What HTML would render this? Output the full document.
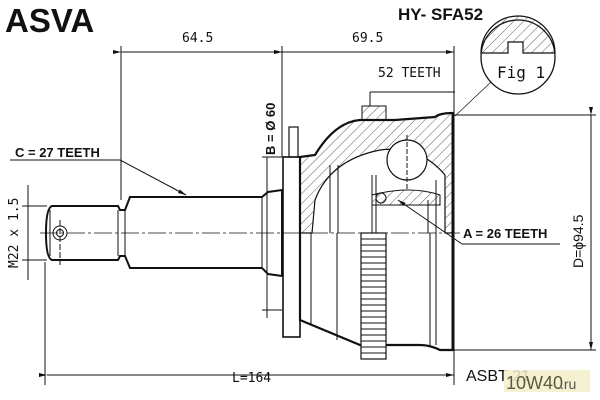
<!DOCTYPE html>
<html><head><meta charset="utf-8"><style>
html,body{margin:0;padding:0;background:#fff;}
svg{display:block;}
text{font-family:"Liberation Sans",sans-serif;fill:#111;}
.m{font-family:"DejaVu Sans Mono","Liberation Mono",monospace;}
</style></head><body>
<svg width="600" height="400" viewBox="0 0 600 400" xmlns="http://www.w3.org/2000/svg">
<defs>
<pattern id="h" width="7" height="7" patternUnits="userSpaceOnUse" patternTransform="rotate(45)">
<line x1="0" y1="0" x2="0" y2="7" stroke="#333" stroke-width="0.8"/></pattern>
<marker id="a" markerWidth="8" markerHeight="6" refX="8" refY="3" orient="auto"><path d="M0,1 L8,3 L0,5z" fill="#111"/></marker>
</defs>
<text x="5" y="32" font-size="33" font-weight="bold">ASVA</text>
<text x="398" y="20" font-size="17" font-weight="bold">HY- SFA52</text>
<g stroke="#111" stroke-width="1" fill="none">
<line x1="121" y1="52" x2="282" y2="52" marker-start="url(#a)" marker-end="url(#a)"/>
<line x1="282" y1="52" x2="454" y2="52" marker-start="url(#a)" marker-end="url(#a)"/>
<line x1="121" y1="46" x2="121" y2="200"/>
<line x1="282" y1="46" x2="282" y2="157"/>
<line x1="454" y1="46" x2="454" y2="385"/>
<line x1="47" y1="375" x2="454" y2="375" marker-start="url(#a)" marker-end="url(#a)"/>
<line x1="45" y1="262" x2="45" y2="385"/>
<line x1="267" y1="157" x2="267" y2="318" />
<line x1="262" y1="157" x2="282" y2="157"/>
<line x1="262" y1="310" x2="282" y2="310"/>
<line x1="28" y1="185" x2="28" y2="280"/>
<line x1="22" y1="206" x2="47" y2="206"/>
<line x1="22" y1="260" x2="47" y2="260"/>
<line x1="453" y1="115" x2="596" y2="115"/>
<line x1="453" y1="350" x2="596" y2="350"/>
<line x1="591" y1="115" x2="591" y2="350" marker-start="url(#a)" marker-end="url(#a)"/>
<line x1="40" y1="233" x2="460" y2="233" stroke-dasharray="18,3,3,3" stroke-width="0.8"/>
<path d="M52,206 L118,206 L120,210 L125,210 L130,197 L262,197 L268,192 L282,190 L282,276 L268,274 L262,268 L130,268 L125,256 L120,256 L118,260 L52,260 Q46,258 46,233 Q46,208 52,206Z" stroke-width="2"/>
<line x1="118" y1="210" x2="118" y2="256"/>
<line x1="125" y1="210" x2="125" y2="256"/>
<line x1="262" y1="197" x2="262" y2="268"/>
<line x1="50" y1="210" x2="50" y2="256"/>
<circle cx="60" cy="233" r="7"/><circle cx="60" cy="233" r="3.5"/>
<line x1="60" y1="220" x2="60" y2="265" stroke-dasharray="6,2"/>
<line x1="10" y1="160" x2="120" y2="160"/>
<line x1="120" y1="160" x2="186" y2="195" marker-end="url(#a)"/>
<rect x="283" y="157" width="17" height="180" stroke-width="1.6"/>
<rect x="289" y="127" width="9" height="30" stroke-width="1.2"/>
<path d="M300,157 L315,155 Q335,122 360,120 L395,120 L435,117 Q440,113 453,113 L453,350 L440,350 Q430,345 420,345 L385,345 L360,345 L300,320 Z" stroke-width="2.2"/>
<path d="M300,157 L315,155 Q335,122 360,120 L395,120 L435,117 Q440,113 453,113 L453,233 L445,233 L445,175 Q420,145 380,150 Q330,160 315,200 L312,233 L300,233Z" fill="url(#h)" stroke-width="1.2"/>
<line x1="453" y1="113" x2="453" y2="350" stroke-width="3"/>
<path d="M372,195 Q410,185 440,195 L440,205 L372,205Z" fill="url(#h)"/>
<circle cx="407" cy="160" r="20" fill="#fff" stroke-width="1.2"/>
<line x1="407" y1="135" x2="407" y2="190" stroke-dasharray="5,2"/>
<line x1="330" y1="165" x2="330" y2="233"/>
<line x1="338" y1="165" x2="338" y2="233"/>
<line x1="372" y1="175" x2="372" y2="233"/>
<line x1="376" y1="175" x2="376" y2="233"/>
<line x1="428" y1="200" x2="428" y2="233"/>
<line x1="436" y1="180" x2="436" y2="233"/>
<circle cx="381" cy="198" r="5"/>
<line x1="337" y1="233" x2="337" y2="340"/>
<line x1="430" y1="233" x2="430" y2="345"/>
<line x1="436" y1="233" x2="436" y2="345"/>
<line x1="311" y1="233" x2="311" y2="325"/>
<rect x="361" y="233" width="25" height="126" fill="#fff" stroke-width="1.2"/>
<path d="M361,239h25M361,245h25M361,251h25M361,257h25M361,263h25M361,269h25M361,275h25M361,281h25M361,287h25M361,293h25M361,299h25M361,305h25M361,311h25M361,317h25M361,323h25M361,329h25M361,335h25M361,341h25M361,347h25M361,353h25" stroke-width="0.9"/>
<rect x="362" y="106" width="24" height="14" fill="url(#h)"/>
<path d="M370,92 L455,92 M370,92 L370,106" />
<line x1="462" y1="244" x2="560" y2="244"/>
<line x1="462" y1="244" x2="398" y2="200" marker-end="url(#a)"/>
<circle cx="518" cy="57" r="37" stroke-width="1.3"/>
<path d="M481,53 L508,53 L508,42 L523,42 L523,53 L555,53 A37,37 0 0 0 481,53Z" fill="url(#h)" stroke-width="1.2"/>
<line x1="491" y1="82" x2="455" y2="116" stroke-width="0.7"/>
</g>
<text x="182" y="42" font-size="13" class="m">64.5</text>
<text x="352" y="42" font-size="13" class="m">69.5</text>
<text x="378" y="77" font-size="13" class="m">52 TEETH</text>
<text x="497" y="78" font-size="16" class="m">Fig 1</text>
<text x="15" y="157" font-size="13" font-weight="bold">C = 27 TEETH</text>
<text x="463" y="238" font-size="13" font-weight="bold">A = 26 TEETH</text>
<text x="232" y="382" font-size="13" class="m">L=164</text>
<text x="466" y="381" font-size="16">ASBT-21</text>
<text transform="translate(18,268) rotate(-90)" font-size="13" class="m">M22 x 1.5</text>
<text transform="translate(275,155) rotate(-90)" font-size="13" font-weight="bold">B = Ø 60</text>
<text transform="translate(583,268) rotate(-90)" font-size="14">D=ϕ94.5</text>
<rect x="504" y="370" width="86" height="22" fill="#f2efc8" opacity="0.85"/>
<text x="506" y="389" font-size="18" style="fill:#5a5a40">10W40</text>
<text x="560" y="389" font-size="14" style="fill:#555">.ru</text>
</svg>
</body></html>
